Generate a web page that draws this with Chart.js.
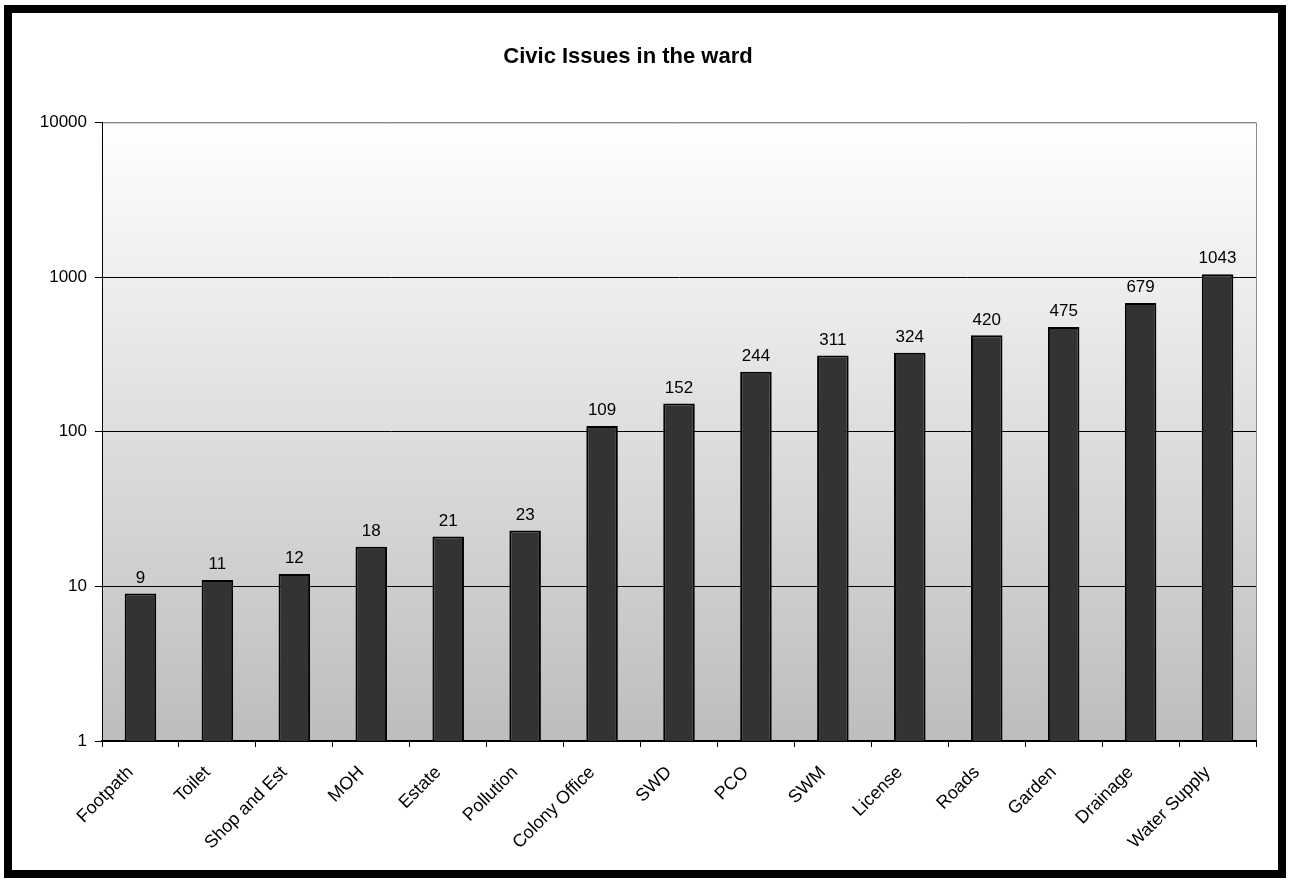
<!DOCTYPE html>
<html>
<head>
<meta charset="utf-8">
<script src="https://cdn.jsdelivr.net/npm/chart.js@4/dist/chart.umd.min.js"></script>
<style>
  html, body { margin: 0; padding: 0; background: #fff; }
  #wrap { width: 1292px; height: 880px; }
</style>
</head>
<body>
<div id="wrap"><canvas id="myChart"></canvas></div>
<script>
let categories = ['Footpath', 'Toilet', 'Shop and Est', 'MOH', 'Estate', 'Pollution', 'Colony Office',
  'SWD', 'PCO', 'SWM', 'License', 'Roads', 'Garden', 'Drainage', 'Water Supply']
let issues = [9, 11, 12, 18, 21, 23, 109, 152, 244, 311, 324, 420, 475, 679, 1043]
let yTicks = [1, 10, 100, 1000, 10000]

Chart.defaults.font.family = '"Liberation Sans", Arial, sans-serif'
Chart.defaults.color = '#000'

// gradient plot background + grey box edge, black frame round the picture
const plotBack = {
  id: 'plotBack',
  beforeDraw(chart) {
    const { ctx, chartArea: a } = chart
    let g = ctx.createLinearGradient(0, a.top, 0, a.bottom)
    g.addColorStop(0, '#ffffff')
    g.addColorStop(1, '#bdbdbd')
    ctx.save()
    ctx.fillStyle = g
    ctx.fillRect(a.left, a.top, a.right - a.left, a.bottom - a.top)
    ctx.strokeStyle = '#8c8c8c'
    ctx.lineWidth = 1
    ctx.strokeRect(a.left + 0.5, a.top + 0.5, a.right - a.left, a.bottom - a.top)
    ctx.restore()
  },
  afterDraw(chart) {
    const ctx = chart.ctx
    ctx.save()
    ctx.strokeStyle = '#000'
    ctx.lineWidth = 8
    ctx.strokeRect(8, 9, 1274, 865)
    ctx.restore()
  },
}

// value labels over the bars
const barValues = {
  id: 'barValues',
  afterDatasetsDraw(chart) {
    const ctx = chart.ctx
    const meta = chart.getDatasetMeta(0)
    ctx.save()
    ctx.font = '17px "Liberation Sans", Arial, sans-serif'
    ctx.fillStyle = '#000'
    ctx.textAlign = 'center'
    ctx.textBaseline = 'bottom'
    meta.data.forEach((bar, i) => {
      ctx.fillText(chart.data.datasets[0].data[i], bar.x, bar.y - 7)
    })
    ctx.restore()
  },
}

const ctx = document.getElementById('myChart').getContext('2d')
const myChart = new Chart(ctx, {
  type: 'bar',
  data: {
    labels: categories,
    datasets: [
      {
        label: 'Issues',
        data: issues,
        backgroundColor: '#333333',
        borderColor: '#000000',
        borderWidth: 2,
        categoryPercentage: 1,
        barPercentage: 0.41,
      },
    ],
  },
  plugins: [plotBack, barValues],
  options: {
    responsive: true,
    maintainAspectRatio: false,
    animation: false,
    layout: { padding: { left: 0, right: 36, top: 0, bottom: 0 } },
    scales: {
      y: {
        type: 'logarithmic',
        min: 1,
        max: 10000,
        afterBuildTicks: (scale) => {
          scale.ticks = yTicks.map((v) => ({ value: v }))
        },
        afterFit: (scale) => {
          scale.width = 102
        },
        ticks: {
          font: { size: 17 },
          color: '#000',
          padding: 8,
          callback: (v) => String(v),
        },
        grid: {
          color: (c) => (c.tick && c.tick.value === 10000 ? '#8c8c8c' : '#000'),
          lineWidth: 1,
          tickLength: 7,
          tickColor: '#000',
        },
        border: { color: '#000', width: 1 },
      },
      x: {
        afterFit: (scale) => {
          scale.height = 139
        },
        ticks: {
          font: { size: 18 },
          color: '#000',
          minRotation: 45,
          maxRotation: 45,
          autoSkip: false,
          padding: 15,
          labelOffset: -10,
        },
        grid: {
          offset: true,
          drawOnChartArea: false,
          drawTicks: true,
          tickLength: 6,
          color: '#000',
        },
        border: { color: '#000', width: 1.5 },
      },
    },
    plugins: {
      legend: { display: false },
      tooltip: { enabled: false },
      title: {
        display: true,
        text: 'Civic Issues in the ward',
        font: { size: 22, weight: 'bold' },
        color: '#000',
        padding: { top: 44, bottom: 52 },
      },
    },
  },
})
</script>
</body>
</html>
